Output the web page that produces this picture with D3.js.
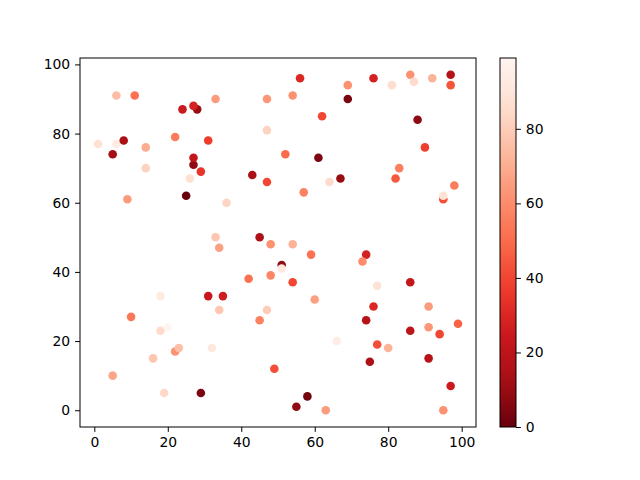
<!DOCTYPE html>
<html>
<head>
<meta charset="utf-8">
<script src="https://cdn.jsdelivr.net/npm/d3@7"></script>
<style>
    body { margin: 0; background: #fff; }
    svg { display: block; }
    text { font-family: "DejaVu Sans", sans-serif; font-size: 13.9px; fill: #000; }
</style>
</head>
<body>
<svg id="chart" width="640" height="480"></svg>
<script>
// point positions and colour values
const xs = [6, 11, 24, 28, 27, 33, 47, 47, 1, 6, 8, 5, 14, 14, 22, 31, 27, 27, 29, 26,
    25, 9, 36, 43, 47, 33, 45, 48, 34, 56, 54, 69, 69, 76, 81, 86, 87, 92, 97, 97,
    62, 88, 90, 52, 61, 83, 82, 64, 67, 57, 98, 95, 95, 54, 48, 42, 18, 31, 35, 34,
    47, 45, 10, 18, 20, 22, 23, 32, 16, 5, 19, 29, 49, 59, 74, 73, 51, 51, 54, 77,
    86, 60, 76, 91, 74, 86, 91, 94, 99, 66, 77, 80, 75, 91, 97, 58, 55, 63, 95];
const ys = [91, 91, 87, 87, 88, 90, 90, 81, 77, 77, 78, 74, 76, 70, 79, 78, 71, 73, 69, 67,
    62, 61, 60, 68, 66, 50, 50, 48, 47, 96, 91, 94, 90, 96, 94, 97, 95, 96, 97, 94,
    85, 84, 76, 74, 73, 70, 67, 66, 67, 63, 65, 61, 62, 48, 39, 38, 33, 33, 33, 29,
    29, 26, 27, 23, 24, 17, 18, 18, 15, 10, 5, 5, 12, 45, 45, 43, 42, 41, 37, 36,
    37, 32, 30, 30, 26, 23, 24, 22, 25, 20, 19, 18, 14, 15, 7, 4, 1, 0, 0];
const cs = [75, 52, 25, 10, 28, 65, 63, 82, 88, 93, 14, 12, 70, 82, 55, 37, 8, 22, 35, 87,
    0, 65, 83, 14, 40, 78, 15, 62, 66, 30, 62, 62, 4, 28, 86, 62, 85, 72, 18, 44,
    40, 8, 38, 50, 4, 56, 45, 85, 10, 57, 55, 42, 88, 72, 58, 52, 93, 24, 26, 78,
    80, 57, 54, 85, 99, 62, 76, 92, 78, 68, 84, 4, 42, 52, 28, 60, 8, 92, 40, 88,
    22, 66, 30, 65, 18, 20, 63, 40, 48, 94, 42, 72, 15, 18, 25, 3, 8, 65, 62];
const xTicks = [0, 20, 40, 60, 80, 100];
const yTicks = [0, 20, 40, 60, 80, 100];
const cTicks = [0, 20, 40, 60, 80];
// matplotlib "Reds" anchors, used reversed
const redsColors = ["#fff5f0", "#fee0d2", "#fcbba1", "#fc9272", "#fb6a4a", "#ef3b2c", "#cb181d", "#a50f15", "#67000d"];

const svg = d3.select("#chart");
const mLeft = 80, mRight = 476, mTop = 58, mBottom = 427;

function padded(ext) {
    const p = (ext[1] - ext[0]) * 0.05;
    return [ext[0] - p, ext[1] + p];
}

const x = d3.scaleLinear().domain(padded(d3.extent(xs))).range([mLeft, mRight]);
const y = d3.scaleLinear().domain(padded(d3.extent(ys))).range([mBottom, mTop]);

const cExt = d3.extent(cs);
const cStops = redsColors.map((c, i) => cExt[0] + (cExt[1] - cExt[0]) * i / (redsColors.length - 1));
const color = d3.scaleLinear().domain(cStops).range(redsColors.slice().reverse()).interpolate(d3.interpolateRgb);

const points = xs.map((v, i) => ({ x: v, y: ys[i], c: cs[i] }));

svg.append("g")
    .selectAll("circle")
    .data(points)
    .join("circle")
    .attr("cx", d => x(d.x))
    .attr("cy", d => y(d.y))
    .attr("r", 4.3)
    .attr("fill", d => color(d.c));

svg.append("rect")
    .attr("x", mLeft).attr("y", mTop)
    .attr("width", mRight - mLeft).attr("height", mBottom - mTop)
    .attr("fill", "none").attr("stroke", "#000").attr("stroke-width", 1);

const xAxis = svg.append("g")
    .attr("transform", `translate(0,${mBottom})`)
    .call(d3.axisBottom(x).tickValues(xTicks).tickSize(4.9).tickPadding(4.9));
const yAxis = svg.append("g")
    .attr("transform", `translate(${mLeft},0)`)
    .call(d3.axisLeft(y).tickValues(yTicks).tickSize(4.9).tickPadding(4.9));
[xAxis, yAxis].forEach(a => {
    a.select(".domain").remove();
    a.attr("font-size", null).attr("font-family", null);
});

// colour bar
const cbLeft = 500, cbRight = 516;
const cy = d3.scaleLinear().domain(cExt).range([mBottom, mTop]);
const grad = svg.append("defs").append("linearGradient")
    .attr("id", "cbGrad")
    .attr("x1", 0).attr("y1", 1).attr("x2", 0).attr("y2", 0);
grad.selectAll("stop")
    .data(d3.range(0, 1.0001, 0.05))
    .join("stop")
    .attr("offset", t => t)
    .attr("stop-color", t => color(cExt[0] + t * (cExt[1] - cExt[0])));

svg.append("rect")
    .attr("x", cbLeft).attr("y", mTop)
    .attr("width", cbRight - cbLeft).attr("height", mBottom - mTop)
    .attr("fill", "url(#cbGrad)")
    .attr("stroke", "#000").attr("stroke-width", 1);

const cAxis = svg.append("g")
    .attr("transform", `translate(${cbRight},0)`)
    .call(d3.axisRight(cy).tickValues(cTicks).tickSize(4.9).tickPadding(4.9));
cAxis.select(".domain").remove();
cAxis.attr("font-size", null).attr("font-family", null);
</script>
</body>
</html>
